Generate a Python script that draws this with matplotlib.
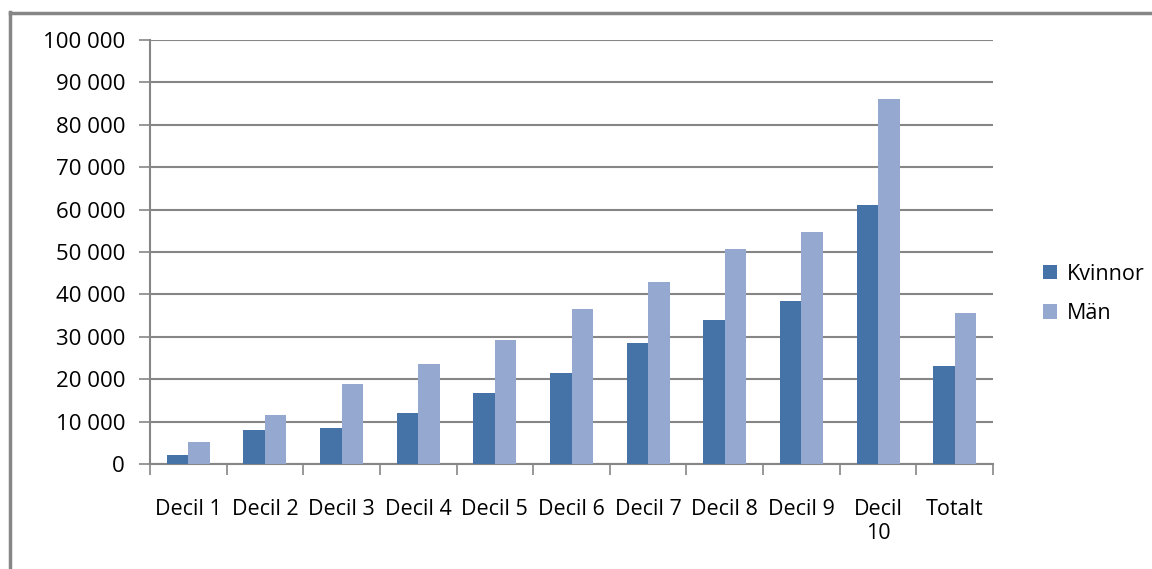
import numpy as np
import matplotlib
matplotlib.use("Agg")
import matplotlib.pyplot as plt
from matplotlib.lines import Line2D
from matplotlib.ticker import FuncFormatter

categories = ["Decil 1", "Decil 2", "Decil 3", "Decil 4", "Decil 5", "Decil 6",
              "Decil 7", "Decil 8", "Decil 9", "Decil\n10", "Totalt"]
kvinnor = [2100, 8000, 8500, 12000, 16700, 21500, 28500, 34000, 38400, 61100, 23100]
man = [5200, 11600, 18900, 23600, 29200, 36600, 42900, 50700, 54700, 86100, 35600]

c_kv = "#4572a7"
c_man = "#95a9d0"
grey = "#868686"
fs = 15.5

plt.rcParams["font.family"] = ["Open Sans", "DejaVu Sans"]

W, H = 1152, 569
fig = plt.figure(figsize=(W / 100, H / 100), dpi=100)
ax = fig.add_axes([150 / W, 1 - 464 / H, (993 - 150) / W, (464 - 40) / H])

x = np.arange(len(categories))
bw = 0.28
ax.bar(x - bw / 2, kvinnor, bw, color=c_kv, label="Kvinnor", zorder=3)
ax.bar(x + bw / 2, man, bw, color=c_man, label="Män", zorder=3)

ax.set_xlim(-0.5, len(categories) - 0.5)
ax.set_ylim(0, 100000)
ax.set_yticks(np.arange(0, 100001, 10000))
ax.yaxis.set_major_formatter(FuncFormatter(lambda v, p: f"{int(v):,}".replace(",", " ")))
ax.yaxis.grid(True, color=grey, linewidth=1.5, zorder=0)

# category labels sit between boundary ticks
ax.set_xticks(np.arange(-0.5, len(categories), 1.0))
ax.set_xticklabels([])
ax.set_xticks(x, minor=True)
ax.set_xticklabels(categories, minor=True, fontsize=fs, linespacing=1.2)
ax.tick_params(axis="x", which="minor", length=0, pad=25)
ax.tick_params(axis="x", which="major", length=8, width=1.2, color=grey)
ax.tick_params(axis="y", length=8, width=1.2, color=grey, labelsize=16, pad=10)
for lbl in ax.get_xticklabels(minor=True):
    lbl.set_verticalalignment("top")

for s in ["top", "right"]:
    ax.spines[s].set_visible(False)
for s in ["left", "bottom"]:
    ax.spines[s].set_color(grey)
    ax.spines[s].set_linewidth(1.5)

fig.legend(loc="center left", bbox_to_anchor=(1024 / W, 1 - 294 / H),
           frameon=False, fontsize=fs, handlelength=0.65, handleheight=0.65,
           labelspacing=0.85, handletextpad=0.45)

# chart frame, only the top and left edges show
fig.add_artist(Line2D([10 / W, 10 / W], [1 - 12 / H, 0], color=grey, linewidth=2.5))
fig.add_artist(Line2D([10 / W, 1], [1 - 13 / H, 1 - 13 / H], color=grey, linewidth=2.5))

fig.savefig("out.png", dpi=100, facecolor="white")
